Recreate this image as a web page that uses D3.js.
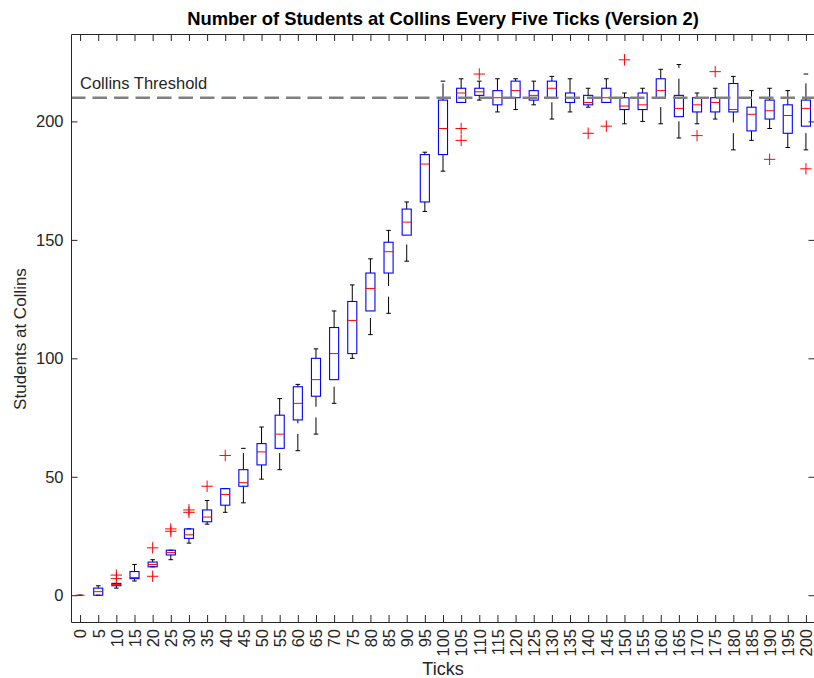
<!DOCTYPE html>
<html>
<head>
<meta charset="utf-8">
<script src="https://cdn.jsdelivr.net/npm/d3@7"></script>
<style>
  body { margin: 0; background: #fff; }
  svg { display: block; font-family: "Liberation Sans", Arial, Helvetica, sans-serif; }
</style>
</head>
<body>
<svg id="chart" width="814" height="678"></svg>
<script>
// tick labels (x categories)
const tickLabels = d3.range(0, 201, 5);

// box statistics, one entry per category
const q1s  = [0, 0, 4, 7, 12, 17, 24, 31, 38, 46, 55, 62, 74, 84, 91, 102, 120, 136, 152, 166, 186,
              208, 211, 207, 210, 209, 210, 208, 207, 208, 205, 205, 210, 202, 204, 204, 204, 196, 201, 195, 198];
const meds = [0, 1.5, 4.5, 7.5, 13, 18, 25.5, 33, 42.5, 47.5, 60.5, 68, 81, 91, 102, 116, 129.5, 145, 157.5, 182, 197,
              212, 212.5, 210, 213, 211, 214, 210, 208, 210, 206.5, 207, 213, 205.5, 207, 208, 205, 203, 204.5, 202.5, 205.5];
const q3s  = [0, 3, 5, 10, 14, 19, 28, 36, 45, 53, 64, 76, 88, 100, 113, 124, 136, 149, 163, 186, 209,
              214, 214, 213, 217, 213, 217, 212, 211, 214, 210, 212, 218, 211, 210, 210, 216, 206, 209, 207, 209];
const lows = [0, 0, 3, 6, 12, 15, 22, 30, 35, 39, 49, 53, 61, 68, 81, 100, 110, 119, 141, 162, 179,
              208, 209, 204, 205, 207, 201, 204, 206, 208, 199, 200, 199, 193, 199, 201, 188, 192, 197, 189, 188];
const highs = [0, 4, 5, 13, 15, 19, 28, 40, 45, 62, 71, 83, 89, 104, 120, 131, 142, 154, 166, 187, 217,
              218, 217, 218, 218, 217, 219, 218, 214, 218, 212, 214, 222, 224, 212, 214, 219, 213, 214, 213, 220];
const outliers = [[], [], [8.5, 7], [], [20, 8], [27, 28], [35, 36], [46], [59], [], [],
                  [], [], [], [], [], [], [], [], [], [],
                  [197, 192], [220], [], [], [], [], [], [195], [198], [226],
                  [], [], [], [194], [221], [], [], [184], [], [180]];

const threshold = 210;
const yTicks = [0, 50, 100, 150, 200];

const svg = d3.select('#chart');
const plotLeft = 71, plotRight = 815, plotTop = 34, plotBottom = 622;
const axisColor = '#262626';

const x = d3.scalePoint()
    .domain(tickLabels)
    .range([plotLeft, plotRight])
    .padding(0.5);

const y = d3.scaleLinear()
    .domain([-11.3, 236.9])
    .range([plotBottom, plotTop]);

const boxW = x.step() * 0.5;
const capW = 2.3;

const data = tickLabels.map((t, i) => ({
    tick: t, q1: q1s[i], med: meds[i], q3: q3s[i], lo: lows[i], hi: highs[i], out: outliers[i]
}));

const plot = svg.append('g');

// whiskers (dashed, black)
const g = plot.selectAll('g.box').data(data).join('g').attr('class', 'box');

g.append('line')
    .attr('x1', d => x(d.tick)).attr('x2', d => x(d.tick))
    .attr('y1', d => y(d.q3)).attr('y2', d => y(d.hi))
    .attr('stroke', '#000').attr('stroke-width', 1)
    .attr('stroke-dasharray', '16.7,10.7');

g.append('line')
    .attr('x1', d => x(d.tick)).attr('x2', d => x(d.tick))
    .attr('y1', d => y(d.lo)).attr('y2', d => y(d.q1))
    .attr('stroke', '#000').attr('stroke-width', 1)
    .attr('stroke-dasharray', '16.7,10.7');

// caps
g.append('line')
    .attr('x1', d => x(d.tick) - capW).attr('x2', d => x(d.tick) + capW)
    .attr('y1', d => y(d.hi)).attr('y2', d => y(d.hi))
    .attr('stroke', '#000').attr('stroke-width', 1);
g.append('line')
    .attr('x1', d => x(d.tick) - capW).attr('x2', d => x(d.tick) + capW)
    .attr('y1', d => y(d.lo)).attr('y2', d => y(d.lo))
    .attr('stroke', '#000').attr('stroke-width', 1);

// boxes (outline only)
g.filter(d => d.q3 > d.q1).append('rect')
    .attr('x', d => x(d.tick) - boxW / 2)
    .attr('width', boxW)
    .attr('y', d => y(d.q3))
    .attr('height', d => y(d.q1) - y(d.q3))
    .attr('fill', 'none')
    .attr('stroke', '#0000ff').attr('stroke-width', 1.1);

// medians
g.append('line')
    .attr('x1', d => x(d.tick) - boxW / 2).attr('x2', d => x(d.tick) + boxW / 2)
    .attr('y1', d => y(d.med)).attr('y2', d => y(d.med))
    .attr('stroke', '#ff0000').attr('stroke-width', 1);

// outliers as red plus signs
const outPts = data.flatMap(d => d.out.map(v => ({ tick: d.tick, v })));
const arm = 5.7;
plot.selectAll('path.out').data(outPts).join('path')
    .attr('class', 'out')
    .attr('d', d => {
        const cx = x(d.tick), cy = y(d.v);
        return `M${cx - arm},${cy}H${cx + arm}M${cx},${cy - arm}V${cy + arm}`;
    })
    .attr('stroke', '#ff0000').attr('stroke-width', 1).attr('fill', 'none');

// threshold line
plot.append('line')
    .attr('x1', plotLeft).attr('x2', plotRight)
    .attr('y1', y(threshold)).attr('y2', y(threshold))
    .attr('stroke', '#808080').attr('stroke-width', 2.4)
    .attr('stroke-dasharray', '14.5,7');

svg.append('text')
    .attr('x', 80).attr('y', y(threshold) - 9)
    .attr('font-size', 16.5).attr('fill', axisColor)
    .text('Collins Threshold');

// axes with inward ticks
const xAxis = svg.append('g')
    .attr('transform', `translate(0,${plotBottom})`)
    .call(d3.axisBottom(x).tickSizeInner(-7).tickSizeOuter(0));
xAxis.selectAll('text')
    .attr('transform', 'translate(5.8,7) rotate(-90)')
    .attr('x', 0).attr('y', 0).attr('dy', null)
    .attr('text-anchor', 'end');

svg.append('g')
    .attr('transform', `translate(0,${plotTop})`)
    .call(d3.axisTop(x).tickSizeInner(-7).tickSizeOuter(0).tickFormat(''));

svg.append('g')
    .attr('transform', `translate(${plotLeft},0)`)
    .call(d3.axisLeft(y).tickValues(yTicks).tickSizeInner(-6.5).tickSizeOuter(0).tickPadding(7.5));

svg.append('g')
    .attr('transform', `translate(${plotRight},0)`)
    .call(d3.axisRight(y).tickValues(yTicks).tickSizeInner(-6.5).tickSizeOuter(0).tickFormat(''));

svg.selectAll('.domain, .tick line').attr('stroke', axisColor);
svg.selectAll('.tick text')
    .attr('font-size', 16.5)
    .attr('font-family', '"Liberation Sans", Arial, sans-serif')
    .attr('fill', axisColor);

// title and axis labels
svg.append('text')
    .attr('x', (plotLeft + plotRight) / 2).attr('y', 25)
    .attr('text-anchor', 'middle')
    .attr('font-size', 18.4).attr('font-weight', 'bold').attr('fill', '#000')
    .text('Number of Students at Collins Every Five Ticks (Version 2)');

svg.append('text')
    .attr('x', (plotLeft + plotRight) / 2).attr('y', 675)
    .attr('text-anchor', 'middle')
    .attr('font-size', 18).attr('fill', axisColor)
    .text('Ticks');

svg.append('text')
    .attr('transform', 'translate(26,339) rotate(-90)')
    .attr('text-anchor', 'middle')
    .attr('font-size', 17).attr('fill', axisColor)
    .text('Students at Collins');
</script>
</body>
</html>
